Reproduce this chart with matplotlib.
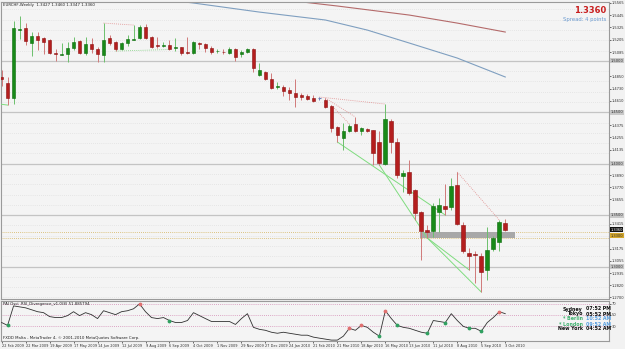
import matplotlib
matplotlib.use("Agg")
import matplotlib.pyplot as plt
import numpy as np
import pandas as pd
from matplotlib.patches import Rectangle

# ---------------- data ----------------
title_text = "EURCHF,Weekly  1.3427 1.3460 1.3347 1.3360"
first_week = "2009-02-22"

opens = [1.4843, 1.4784, 1.4638, 1.5299, 1.5319, 1.5173, 1.5241, 1.5222, 1.5202, 1.5076,
         1.5061, 1.5066, 1.5125, 1.5192, 1.5076, 1.5163, 1.5115, 1.5056, 1.5222, 1.5183,
         1.5115, 1.5173, 1.5207, 1.5222, 1.5329, 1.5231, 1.5154, 1.5149, 1.5154, 1.5125,
         1.5134, 1.5086, 1.5076, 1.5173, 1.5163, 1.5125, 1.5092, 1.5090, 1.5076, 1.5115,
         1.5066, 1.5086, 1.5115, 1.4862, 1.4891, 1.4823, 1.4745, 1.4745, 1.4721, 1.4687,
         1.4667, 1.4658, 1.4638, 1.4634, 1.4624, 1.4561, 1.4357, 1.4250, 1.4318, 1.4386,
         1.4318, 1.4337, 1.4327, 1.4211, 1.3997, 1.4415, 1.4211, 1.3880, 1.3919, 1.3744,
         1.3530, 1.3355, 1.3346, 1.3530, 1.3589, 1.3579, 1.3793, 1.3404, 1.3132, 1.3122,
         1.3103, 1.2967, 1.3171, 1.3239, 1.3427]
highs = [1.4911, 1.4843, 1.5387, 1.5435, 1.5367, 1.5280, 1.5280, 1.5231, 1.5212, 1.5115,
         1.5173, 1.5183, 1.5231, 1.5202, 1.5231, 1.5222, 1.5134, 1.5367, 1.5251, 1.5192,
         1.5183, 1.5251, 1.5348, 1.5348, 1.5358, 1.5241, 1.5231, 1.5183, 1.5202, 1.5222,
         1.5139, 1.5231, 1.5192, 1.5183, 1.5173, 1.5144, 1.5115, 1.5115, 1.5134, 1.5125,
         1.5105, 1.5125, 1.5125, 1.4979, 1.4901, 1.4881, 1.4794, 1.4765, 1.4745, 1.4823,
         1.4687, 1.4677, 1.4667, 1.4648, 1.4638, 1.4570, 1.4366, 1.4395, 1.4386, 1.4454,
         1.4357, 1.4347, 1.4332, 1.4318, 1.4580, 1.4434, 1.4250, 1.3939, 1.4036, 1.3754,
         1.3540, 1.3404, 1.3618, 1.3666, 1.3803, 1.3861, 1.3919, 1.3433, 1.3180, 1.3151,
         1.3132, 1.3385, 1.3297, 1.3453, 1.3460]
lows = [1.4755, 1.4570, 1.4580, 1.5212, 1.5154, 1.5047, 1.5105, 1.5066, 1.5066, 1.4998,
        1.5056, 1.4988, 1.5105, 1.5066, 1.5056, 1.5076, 1.4988, 1.4988, 1.5154, 1.5095,
        1.5105, 1.5144, 1.5202, 1.5212, 1.5212, 1.5125, 1.5125, 1.5134, 1.5110, 1.5095,
        1.5056, 1.5066, 1.5071, 1.5115, 1.5086, 1.5066, 1.5076, 1.5071, 1.5071, 1.4998,
        1.5037, 1.5076, 1.4891, 1.4852, 1.4813, 1.4731, 1.4726, 1.4658, 1.4619, 1.4551,
        1.4619, 1.4619, 1.4600, 1.4619, 1.4541, 1.4308, 1.4211, 1.4133, 1.4308, 1.4308,
        1.4279, 1.4308, 1.3987, 1.3987, 1.3992, 1.4104, 1.3861, 1.3725, 1.3696, 1.3453,
        1.3064, 1.3278, 1.3287, 1.3336, 1.3501, 1.3550, 1.3404, 1.3132, 1.2967, 1.2840,
        1.2753, 1.2869, 1.3151, 1.3151, 1.3347]
closes = [1.4823, 1.4638, 1.5319, 1.5309, 1.5192, 1.5241, 1.5202, 1.5183, 1.5076, 1.5066,
          1.5066, 1.5125, 1.5183, 1.5076, 1.5163, 1.5115, 1.5066, 1.5202, 1.5173, 1.5115,
          1.5173, 1.5212, 1.5212, 1.5329, 1.5222, 1.5134, 1.5144, 1.5154, 1.5115, 1.5134,
          1.5076, 1.5076, 1.5183, 1.5163, 1.5125, 1.5086, 1.5095, 1.5086, 1.5115, 1.5037,
          1.5086, 1.5115, 1.4930, 1.4911, 1.4823, 1.4736, 1.4755, 1.4706, 1.4692, 1.4648,
          1.4648, 1.4629, 1.4609, 1.4634, 1.4551, 1.4347, 1.4279, 1.4318, 1.4366, 1.4318,
          1.4347, 1.4318, 1.4104, 1.4007, 1.4434, 1.4211, 1.3890, 1.3909, 1.3715, 1.3521,
          1.3346, 1.3336, 1.3589, 1.3598, 1.3560, 1.3783, 1.3414, 1.3151, 1.3103, 1.3108,
          1.2947, 1.3161, 1.3278, 1.3433, 1.3360]

# moving averages (bar index, price)
ma_blue_idx = [28, 32, 43, 54, 61, 68, 76, 84]
ma_blue_val = [1.5591, 1.5562, 1.5474, 1.5397, 1.5299, 1.5173, 1.5027, 1.4843]
ma_red_idx = [46, 56, 68, 76, 84]
ma_red_val = [1.5600, 1.5533, 1.5445, 1.5367, 1.5280]

# divergence trend lines on price: (i0, p0, i1, p1)
bear_lines = [(17, 1.5367, 22, 1.5348), (53, 1.4648, 64, 1.4580),
              (54, 1.4638, 59, 1.4454), (55, 1.4570, 58, 1.4386),
              (76, 1.3919, 83, 1.3453)]
bull_lines_dotted = [(19, 1.5095, 28, 1.5110)]
bull_lines = [(-0.3, 1.4580, 1, 1.4570), (56, 1.4211, 74, 1.3501),
              (63, 1.3987, 71, 1.3278), (71, 1.3278, 78, 1.2967),
              (71, 1.3278, 80, 1.2753)]

# RSI divergence oscillator (one value per bar)
rsi = [36.7, 31.6, 65.9, 64.2, 62.5, 59.1, 55.7, 54.0, 47.1, 45.4,
       45.4, 48.8, 55.7, 48.8, 54.0, 50.5, 43.6, 57.4, 54.0, 50.5,
       55.7, 57.4, 60.8, 69.4, 55.7, 45.4, 43.6, 45.4, 40.2, 36.7,
       36.7, 40.2, 54.0, 48.8, 43.6, 38.5, 38.5, 38.5, 38.5, 33.3,
       43.6, 52.2, 28.2, 24.7, 23.0, 19.6, 17.8, 19.6, 17.8, 16.1,
       14.4, 14.4, 11.0, 9.2, 7.5, 5.8, 5.8, 12.7, 26.5, 23.0,
       31.6, 28.2, 19.6, 12.7, 57.4, 43.6, 31.6, 28.2, 26.5, 23.0,
       19.6, 17.8, 40.2, 38.5, 36.7, 52.2, 40.2, 29.9, 26.5, 26.5,
       21.3, 36.7, 45.4, 55.7, 52.2]
bear_marks = [23, 58, 60, 64, 83]
bull_marks = [1, 28, 63, 66, 71, 74, 78, 80]
rsi_levels = [70, 50, 30]

price_ticks = [1.5565, 1.5445, 1.5325, 1.5205, 1.5085, 1.4850, 1.4730, 1.4610,
               1.4375, 1.4255, 1.4135, 1.3890, 1.3770, 1.3655,
               1.3415, 1.3175, 1.3055, 1.2935, 1.2820, 1.2700]
hlines_solid = [1.5000, 1.4500, 1.4000, 1.3500, 1.3000]
zone_top, zone_bottom = 1.3336, 1.3278
zone_label = 1.3300
zone_start = 70
bid_price = 1.3360

sessions = ["Sydney", "Tokyo", "* Berlin", "* London", "New York"]
session_times = ["07:52 PM", "05:52 PM", "10:52 AM", "09:52 AM", "04:52 AM"]
session_open = [False, False, True, True, False]

# ---------------- figure ----------------
W, H = 625, 349
fig = plt.figure(figsize=(W / 100, H / 100), dpi=100)
fig.patch.set_facecolor("#f2f2f2")


def rect(x0, y0, x1, y1):
    return [x0 / W, 1 - y1 / H, (x1 - x0) / W, (y1 - y0) / H]


BG = "#f4f4f4"
ax = fig.add_axes(rect(1, 2, 609, 299))
axi = fig.add_axes(rect(1, 301, 609, 341))
for a in (ax, axi):
    a.set_facecolor(BG)
    for s in a.spines.values():
        s.set_color("#9a9a9a")
        s.set_linewidth(0.8)

n = len(opens)
idx = np.arange(n)
xmin, xmax = -0.1, 101.3
ax.set_xlim(xmin, xmax)
axi.set_xlim(xmin, xmax)
ymin, ymax = 1.2685, 1.5572
ax.set_ylim(ymin, ymax)

# faint dotted levels every 0.01
for lv in np.arange(1.27, 1.56, 0.01):
    if min(abs(lv - h) for h in hlines_solid) < 1e-6:
        continue
    ax.axhline(lv, color="#d8d8d8", lw=0.5, ls=(0, (1, 2)), zorder=1)
for lv in hlines_solid:
    ax.axhline(lv, color="#c4c4c4", lw=0.9, zorder=1)

# moving averages
ax.plot(ma_blue_idx, ma_blue_val, color="#7f9fc0", lw=0.8, zorder=2)
ax.plot(ma_red_idx, ma_red_val, color="#b46a6a", lw=0.8, zorder=2)

# support zone
ax.axhline(zone_top, color="#d4b25a", lw=0.6, ls=(0, (1, 1.5)), zorder=2)
ax.axhline(zone_bottom, color="#d4b25a", lw=0.6, ls=(0, (1, 1.5)), zorder=2)
ax.add_patch(Rectangle((zone_start - 0.2, zone_bottom + 0.0004), 15.8,
                       zone_top - zone_bottom - 0.0004,
                       facecolor="#a8a8a8", edgecolor="none", zorder=2))

# divergence lines
for (a0, p0, a1, p1) in bear_lines:
    ax.plot([a0, a1], [p0, p1], color="#e08a8a", lw=0.6, ls=(0, (1, 1.5)), zorder=3)
for (a0, p0, a1, p1) in bull_lines_dotted:
    ax.plot([a0, a1], [p0, p1], color="#7ccf7c", lw=0.6, ls=(0, (1, 1.5)), zorder=3)
for (a0, p0, a1, p1) in bull_lines:
    ax.plot([a0, a1], [p0, p1], color="#7fdc7f", lw=0.7, zorder=3)

# candles
up_body, up_edge, up_wick = "#188a18", "#0d6a0d", "#6cc06c"
dn_body, dn_edge, dn_wick = "#b41e1e", "#8c1010", "#d07a7a"
bw = 0.62
for i, o, h, l, c in zip(idx, opens, highs, lows, closes):
    if abs(c - o) < 1e-6:
        ax.vlines(i, l, h, color="#7080b8", lw=0.7, zorder=4)
        ax.hlines(o, i - bw / 2, i + bw / 2, color="#7080b8", lw=0.8, zorder=5)
        continue
    up = c > o
    ax.vlines(i, l, h, color=up_wick if up else dn_wick, lw=0.7, zorder=4)
    lo, hi = min(o, c), max(o, c)
    ax.add_patch(Rectangle((i - bw / 2, lo), bw, max(hi - lo, 0.0004),
                           facecolor=up_body if up else dn_body,
                           edgecolor=up_edge if up else dn_edge, lw=0.4, zorder=5))

# price axis
FS = 2.6
ax.yaxis.tick_right()
ax.set_yticks(price_ticks)
ax.set_yticklabels([f"{v:.4f}" for v in price_ticks])
ax.tick_params(axis="y", labelsize=FS, length=1.2, width=0.5, pad=0.6,
               colors="#303030")
ax.set_xticks([])
ytr = ax.get_yaxis_transform()
for lv in hlines_solid:
    ax.text(1.0025, lv, f"{lv:.4f}", transform=ytr, fontsize=FS, va="center", ha="left",
            color="#303030", bbox=dict(boxstyle="square,pad=0.12", fc="#c8c8c8", ec="none"),
            zorder=6)
ax.text(1.0025, bid_price, f"{bid_price:.4f}", transform=ytr, fontsize=FS, va="center",
        ha="left", color="white",
        bbox=dict(boxstyle="square,pad=0.12", fc="#101010", ec="none"), zorder=7)
ax.text(1.0025, zone_label, f"{zone_label:.4f}", transform=ytr, fontsize=FS, va="center",
        ha="left", color="#303030",
        bbox=dict(boxstyle="square,pad=0.12", fc="#d4a72c", ec="none"), zorder=7)

# texts on main chart
ax.text(0.004, 0.995, title_text, transform=ax.transAxes, fontsize=2.8,
        va="top", ha="left", color="#202020")
ax.text(0.995, 0.985, f"{bid_price:.4f}", transform=ax.transAxes, fontsize=6,
        fontweight="bold", va="top", ha="right", color="#c81e1e")
ax.text(0.995, 0.948, "Spread: 4 points", transform=ax.transAxes, fontsize=3.8,
        va="top", ha="right", color="#6a9ad0")

# ---------------- indicator ----------------
axi.set_ylim(4.2, 74.5)
for lv in rsi_levels:
    axi.axhline(lv, color="#d48ab4", lw=0.6, ls=(0, (1, 1.5)), zorder=1)
axi.plot(idx, rsi, color="#303030", lw=0.6, zorder=3)
axi.scatter(bear_marks, [rsi[k] for k in bear_marks], s=3, color="#e07070", zorder=4)
axi.scatter(bull_marks, [rsi[k] for k in bull_marks], s=3, color="#30a060", zorder=4)
axi.yaxis.tick_right()
axi.set_yticks([70, 50, 30])
axi.set_yticklabels(["70", "50", "30"])
axi.tick_params(axis="y", labelsize=FS, length=1.2, width=0.5, pad=0.6, colors="#303030")
axi.text(0.004, 0.97, "PAI Osci  RSI_Divergence_v1.0(8) 51.885794", transform=axi.transAxes,
         fontsize=2.8, va="top", ha="left", color="#202020")
axi.text(0.004, 0.03, "FXDD Malta - MetaTrader 4, \u00a9 2001-2010 MetaQuotes Software Corp.",
         transform=axi.transAxes, fontsize=2.8, va="bottom", ha="left", color="#202020")

# sessions panel
for k, (nm, tm, op) in enumerate(zip(sessions, session_times, session_open)):
    yy = 0.80 - k * 0.125
    axi.text(0.957, yy, nm, transform=axi.transAxes, fontsize=3.4, fontweight="bold",
             ha="right", va="center", color="#40b070" if op else "#101010")
    axi.text(0.962, yy, tm, transform=axi.transAxes, fontsize=3.4, fontweight="bold",
             ha="left", va="center", color="#5aa0e0" if op else "#101010")

# date axis
dates = pd.date_range(first_week, periods=n, freq="7D")
lab_idx = list(range(0, n, 4))
axi.set_xticks(lab_idx)
axi.set_xticklabels([f"{dates[k].day} {dates[k].strftime('%b %Y')}" for k in lab_idx],
                    ha="left")
axi.tick_params(axis="x", labelsize=2.5, length=1.2, width=0.5, pad=0.8, colors="#303030")

fig.savefig("out.png", dpi=100, facecolor=fig.get_facecolor())
